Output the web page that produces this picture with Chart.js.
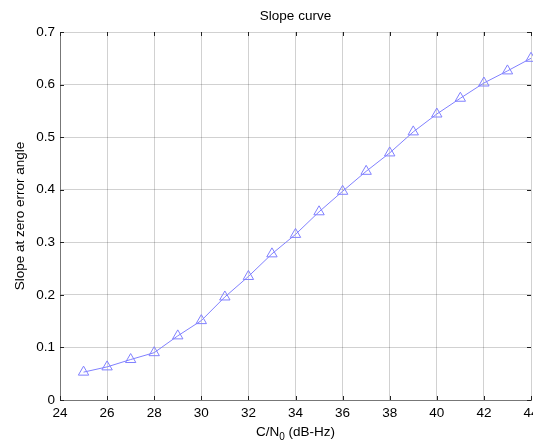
<!DOCTYPE html>
<html>
<head>
<meta charset="utf-8">
<script src="https://cdn.jsdelivr.net/npm/chart.js@4/dist/chart.umd.min.js"></script>
<style>
  html, body { margin: 0; padding: 0; background: #fff; }
  #box { width: 533px; height: 443px; }
</style>
</head>
<body>
<div id="box"><canvas id="meuGrafico" width="533" height="443"></canvas></div>
<script>
// C/N0 em dB-Hz e inclinação no erro zero
var cn0 = [25, 26, 27, 28, 29, 30, 31, 32, 33, 34, 35, 36, 37, 38, 39, 40, 41, 42, 43, 44];
var inclinacao = [0.053, 0.063, 0.077, 0.090, 0.122, 0.151, 0.196, 0.235, 0.278, 0.315,
                  0.358, 0.397, 0.435, 0.470, 0.510, 0.544, 0.574, 0.603, 0.626, 0.650];
var ticksX = [24, 26, 28, 30, 32, 34, 36, 38, 40, 42, 44];
var ticksY = [0, 0.1, 0.2, 0.3, 0.4, 0.5, 0.6, 0.7];

var fonte = '"Liberation Sans", Arial, sans-serif';

// Títulos, rótulos do eixo x e marcas internas no estilo MATLAB
var extras = {
    id: 'extras',
    afterDraw: function (chart) {
        var ctx = chart.ctx;
        var a = chart.chartArea;
        var sx = chart.scales.x, sy = chart.scales.y;
        ctx.save();

        // marcas de escala para dentro
        ctx.strokeStyle = '#222';
        ctx.lineWidth = 1;
        ctx.beginPath();
        ticksX.forEach(function (v) {
            var px = Math.round(sx.getPixelForValue(v)) + 0.5;
            ctx.moveTo(px, a.bottom); ctx.lineTo(px, a.bottom - 4);
            ctx.moveTo(px, a.top); ctx.lineTo(px, a.top + 4);
        });
        ticksY.forEach(function (v) {
            var py = Math.round(sy.getPixelForValue(v)) + 0.5;
            ctx.moveTo(a.left, py); ctx.lineTo(a.left + 4, py);
            ctx.moveTo(a.right, py); ctx.lineTo(a.right - 4, py);
        });
        ctx.stroke();

        ctx.fillStyle = '#000';

        // rótulos do eixo x (o último pode sair da tela)
        ctx.font = '13.5px ' + fonte;
        ctx.textAlign = 'center';
        ctx.textBaseline = 'top';
        ticksX.forEach(function (v) {
            ctx.fillText(String(v), sx.getPixelForValue(v), a.bottom + 7);
        });

        var cx = (a.left + a.right) / 2;

        // título
        ctx.textBaseline = 'middle';
        ctx.fillText('Slope curve', cx, 16);

        // título do eixo x com subscrito
        var t1 = 'C/N', t2 = '0', t3 = ' (dB-Hz)';
        var w1 = ctx.measureText(t1).width;
        var w3 = ctx.measureText(t3).width;
        ctx.font = '10px ' + fonte;
        var w2 = ctx.measureText(t2).width;
        var x0 = cx - (w1 + w2 + w3) / 2;
        var yb = 436;
        ctx.textAlign = 'left';
        ctx.textBaseline = 'alphabetic';
        ctx.font = '13.5px ' + fonte;
        ctx.fillText(t1, x0, yb);
        ctx.font = '10px ' + fonte;
        ctx.fillText(t2, x0 + w1, yb + 4);
        ctx.font = '13.5px ' + fonte;
        ctx.fillText(t3, x0 + w1 + w2, yb);

        // título do eixo y
        ctx.translate(20, (a.top + a.bottom) / 2);
        ctx.rotate(-Math.PI / 2);
        ctx.textAlign = 'center';
        ctx.textBaseline = 'middle';
        ctx.fillText('Slope at zero error angle', 0, 0);
        ctx.restore();
    }
};

var ctx = document.getElementById('meuGrafico').getContext('2d');
new Chart(ctx, {
    type: 'line',
    data: {
        datasets: [{
            data: cn0.map(function (x, i) { return { x: x, y: inclinacao[i] }; }),
            borderColor: '#8080ff',
            borderWidth: 1,
            backgroundColor: 'rgba(0,0,0,0)',
            pointStyle: 'triangle',
            pointRadius: 6,
            pointBorderColor: '#8080ff',
            pointBackgroundColor: 'rgba(0,0,0,0)',
            pointBorderWidth: 1,
            tension: 0,
            clip: false
        }]
    },
    options: {
        responsive: false,
        animation: false,
        layout: { autoPadding: false, padding: { top: 32, right: 2, left: 0, bottom: 0 } },
        plugins: { legend: { display: false }, tooltip: { enabled: false } },
        scales: {
            x: {
                type: 'linear',
                min: 24, max: 44,
                afterBuildTicks: function (s) { s.ticks = ticksX.map(function (v) { return { value: v }; }); },
                afterFit: function (s) { s.height = 43; },
                grid: { color: 'rgba(0,0,0,0.18)', drawTicks: false },
                border: { color: '#777' },
                ticks: { display: false }
            },
            y: {
                min: 0, max: 0.7,
                afterBuildTicks: function (s) { s.ticks = ticksY.map(function (v) { return { value: v }; }); },
                afterFit: function (s) { s.width = 60; },
                grid: { color: 'rgba(0,0,0,0.18)', drawTicks: false },
                border: { color: '#777' },
                ticks: {
                    color: '#000', padding: 5, font: { family: fonte, size: 13.5 },
                    callback: function (v) { return v === 0 ? '0' : v.toFixed(1); }
                }
            }
        }
    },
    plugins: [extras]
});
</script>
</body>
</html>
